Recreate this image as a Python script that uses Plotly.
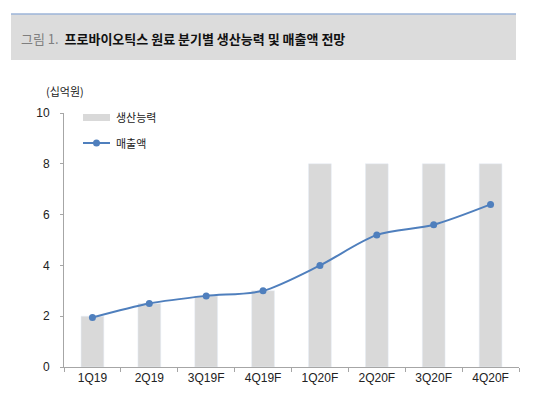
import plotly.graph_objects as go

categories = ["1Q19", "2Q19", "3Q19F", "4Q19F", "1Q20F", "2Q20F", "3Q20F", "4Q20F"]
capacity = [2.0, 2.5, 2.8, 3.0, 8.0, 8.0, 8.0, 8.0]
sales = [1.95, 2.5, 2.8, 3.0, 4.0, 5.2, 5.6, 6.4]
y_ticks = [0, 2, 4, 6, 8, 10]
bar_name = "생산능력"
line_name = "매출액"
unit_label = "(십억원)"
title_prefix = "그림 1."
title_text = "프로바이오틱스 원료 분기별 생산능력 및 매출액 전망"

W, H = 550, 399
L, R, T, B = 64, 31, 113, 32
pw, ph = W - L - R, H - T - B

def px(x):
    return (x - L) / pw

def py(y):
    return (H - B - y) / ph

BAR_COLOR = "#d9d9d9"
LINE_COLOR = "#4f7fbd"
font_lat = "Liberation Sans, Arial, sans-serif"
font_kr = "Noto Sans CJK KR, sans-serif"

fig = go.Figure()
fig.add_trace(go.Bar(x=categories, y=capacity, name=bar_name, marker_color=BAR_COLOR,
                     width=0.4, showlegend=False))
fig.add_trace(go.Scatter(x=categories, y=sales, name=line_name, mode="lines+markers",
                         line=dict(color=LINE_COLOR, width=2, shape="spline", smoothing=0.8),
                         marker=dict(color=LINE_COLOR, size=7), showlegend=False))

shapes = [
    dict(type="rect", xref="paper", yref="paper", x0=px(11), x1=px(516), y0=py(60), y1=py(14),
         fillcolor="#dcdcdc", line_width=0, layer="below"),
    dict(type="line", xref="paper", yref="paper", x0=px(11), x1=px(516), y0=py(14), y1=py(14),
         line=dict(color="#9db5d8", width=1.5)),
    # legend swatches
    dict(type="rect", xref="paper", yref="paper", x0=px(83), x1=px(110), y0=py(121), y1=py(114),
         fillcolor=BAR_COLOR, line_width=0),
    dict(type="line", xref="paper", yref="paper", x0=px(83), x1=px(110), y0=py(143), y1=py(143),
         line=dict(color=LINE_COLOR, width=2)),
    dict(type="circle", xref="paper", yref="paper", x0=px(93), x1=px(100), y0=py(146.5), y1=py(139.5),
         fillcolor=LINE_COLOR, line_width=0),
]

annotations = [
    dict(xref="paper", yref="paper", x=px(19), y=py(38), xanchor="left", yanchor="middle",
         text=f"<span style='color:#7f7f7f'>{title_prefix}</span>  <b>{title_text}</b>",
         showarrow=False, font=dict(family=font_kr, size=13, color="#111111")),
    dict(xref="paper", yref="paper", x=px(44), y=py(91), xanchor="left", yanchor="middle",
         text=unit_label, showarrow=False, font=dict(family=font_kr, size=11, color="#222222")),
    dict(xref="paper", yref="paper", x=px(114), y=py(117), xanchor="left", yanchor="middle",
         text=bar_name, showarrow=False, font=dict(family=font_kr, size=11, color="#222222")),
    dict(xref="paper", yref="paper", x=px(114), y=py(143), xanchor="left", yanchor="middle",
         text=line_name, showarrow=False, font=dict(family=font_kr, size=11, color="#222222")),
]

fig.update_layout(
    width=W, height=H, margin=dict(l=L, r=R, t=T, b=B),
    paper_bgcolor="white", plot_bgcolor="white",
    shapes=shapes, annotations=annotations, bargap=0.6,
    font=dict(family=font_lat, size=12, color="#222222"),
)
fig.update_xaxes(showline=True, linecolor="#a6a6a6", linewidth=1, ticks="outside",
                 tickson="boundaries", ticklen=4, tickcolor="#a6a6a6", showgrid=False,
                 tickfont=dict(family=font_lat, size=12, color="#222222"))
fig.update_yaxes(range=[0, 10], tickvals=y_ticks, showline=True, linecolor="#a6a6a6", linewidth=1,
                 ticks="outside", ticklen=3, tickcolor="#a6a6a6", showgrid=False, zeroline=False,
                 ticklabelstandoff=8,
                 tickfont=dict(family=font_lat, size=12, color="#222222"))

fig.write_html("out.html")
